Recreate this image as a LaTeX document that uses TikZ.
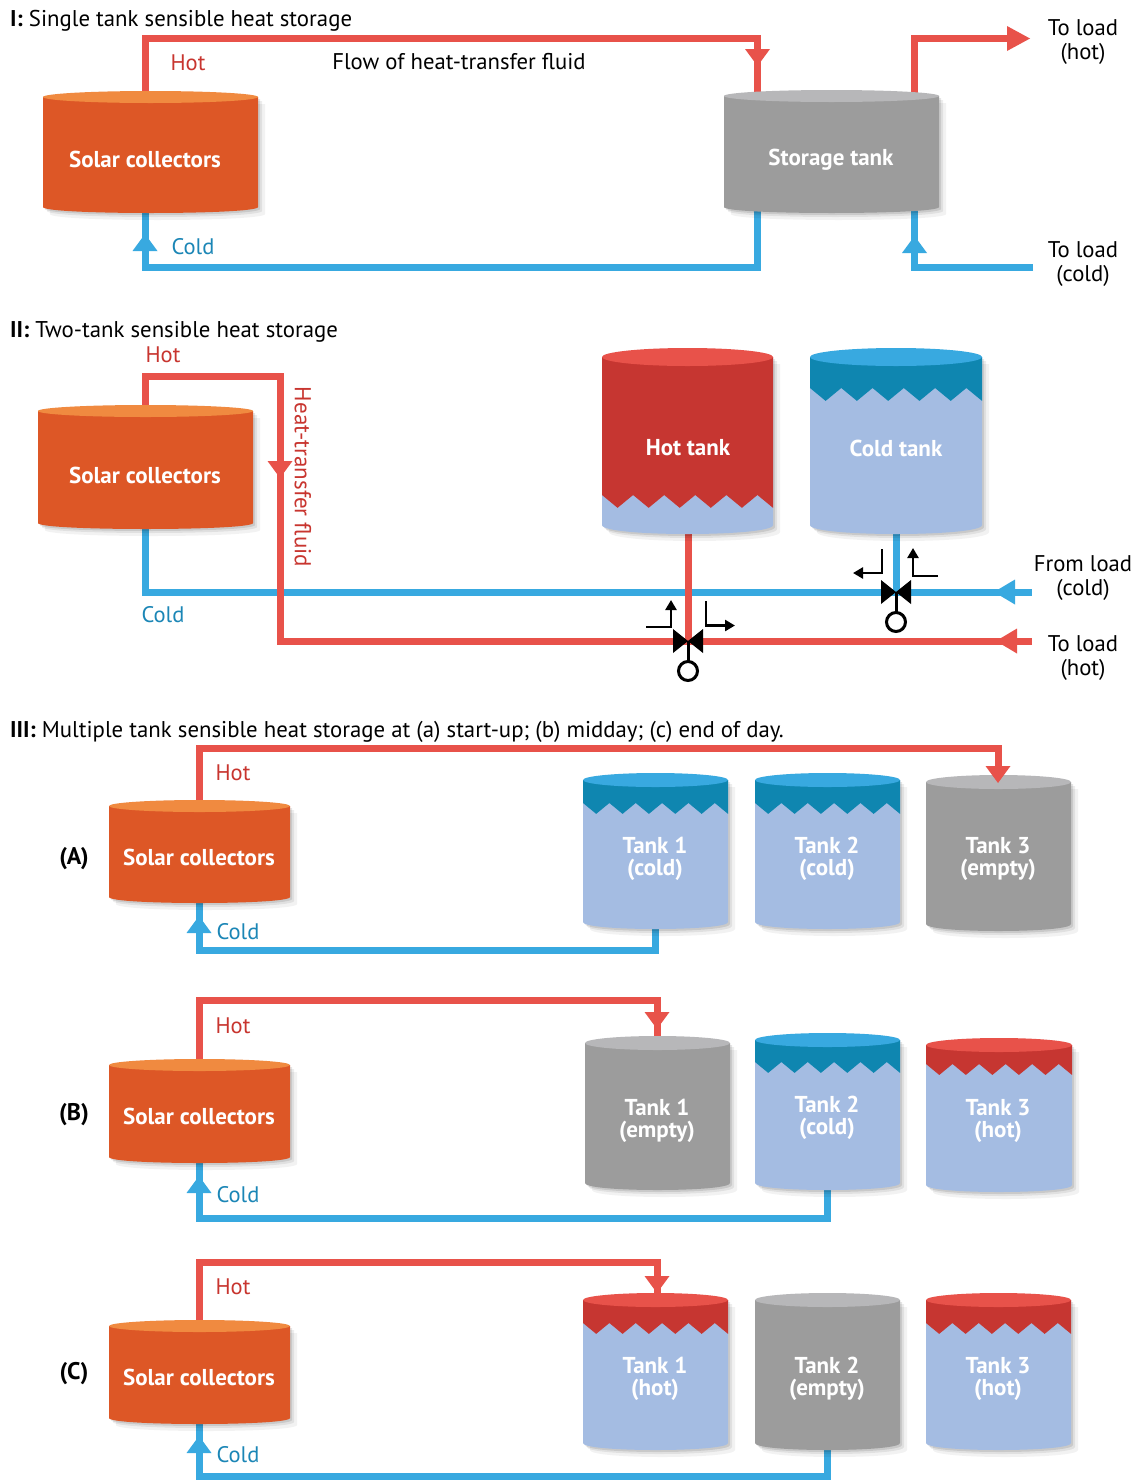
\documentclass[tikz,border=0pt]{standalone}
\usepackage{fontspec}
\setmainfont{PT Sans}
\usetikzlibrary{arrows.meta}

\definecolor{pipered}{HTML}{E8524A}
\definecolor{pipeblue}{HTML}{38A9E0}
\definecolor{hottext}{HTML}{C8352F}
\definecolor{coldtext}{HTML}{1B86B6}
\definecolor{orangebody}{HTML}{DD5726}
\definecolor{orangetop}{HTML}{F08A40}
\definecolor{graybody}{HTML}{9C9C9C}
\definecolor{graytop}{HTML}{B7B7B9}
\definecolor{redband}{HTML}{C63631}
\definecolor{redtop}{HTML}{E8524A}
\definecolor{blueband}{HTML}{0F86B0}
\definecolor{bluetop}{HTML}{38A9E0}
\definecolor{liquid}{HTML}{A4BCE2}

% soft drop shadow under a cylinder: L R yTop yBottom ry
\newcommand{\cylshadow}[5]{%
  \foreach \o/\op in {2/0.10,4/0.07,7/0.05}{%
    \fill[black,opacity=\op] ({#1+\o},{#3+\o}) -- ({#1+\o},{#4+\o})
      .. controls ({#1+\o},{#4+\o+1.333*#5}) and ({#2+\o},{#4+\o+1.333*#5}) .. ({#2+\o},{#4+\o})
      -- ({#2+\o},{#3+\o}) -- cycle;}%
}
% single-colour cylinder: L R yTop yBottom ry bodycolour topcolour
\newcommand{\plaincyl}[7]{%
  \cylshadow{#1}{#2}{#3}{#4}{#5}
  \fill[#6] (#1,#3) -- (#1,#4) .. controls (#1,{#4+1.333*#5}) and (#2,{#4+1.333*#5}) .. (#2,#4) -- (#2,#3) -- cycle;
  \fill[#7] ({(#1+#2)/2},#3) ellipse [x radius={(#2-#1)/2}, y radius=#5];
}
% cylinder holding liquid with a zigzag layer on top:
% L R yTop yBottom ry bandcolour topcolour zigzag-peak-y
\newcommand{\liquidcyl}[8]{%
  \cylshadow{#1}{#2}{#3}{#4}{#5}
  \begin{scope}
    \clip (#1,#3) -- (#1,#4) .. controls (#1,{#4+1.333*#5}) and (#2,{#4+1.333*#5}) .. (#2,#4) -- (#2,#3) -- cycle;
    \fill[liquid] ({#1-2},{#3-20}) rectangle ({#2+2},{#4+20});
    \fill[#6] ({#1-2},{#3-20}) -- ({#1-2},#8)
      foreach \k in {0,...,11}{ -- ({#1+\k*(#2-#1)/11},{#8+mod(\k,2)*0.075*(#2-#1)}) }
      -- ({#2+2},{#8+0.075*(#2-#1)}) -- ({#2+2},{#3-20}) -- cycle;
  \end{scope}
  \fill[#7] ({(#1+#2)/2},#3) ellipse [x radius={(#2-#1)/2}, y radius=#5];
}
% flow direction marks on the pipes (tip position given)
\newcommand{\arrdown}[3]{\fill[#1] (#2,#3) -- ({#2-12.5},{#3-17}) -- ({#2+12.5},{#3-17}) -- cycle;}
\newcommand{\arrup}[3]{\fill[#1] (#2,#3) -- ({#2-12.5},{#3+17}) -- ({#2+12.5},{#3+17}) -- cycle;}
\newcommand{\arrleft}[3]{\fill[#1] (#2,#3) -- ({#2+21},{#3-12.5}) -- ({#2+21},{#3+12.5}) -- cycle;}
\newcommand{\arrright}[3]{\fill[#1] (#2,#3) -- ({#2-23},{#3-12.5}) -- ({#2-23},{#3+12.5}) -- cycle;}
% three-way valve symbol centred at x y
\newcommand{\valvesym}[2]{%
  \fill[black] ({#1-15},{#2-12}) -- ({#1-15},{#2+12}) -- (#1,#2) -- cycle;
  \fill[black] ({#1+15},{#2-12}) -- ({#1+15},{#2+12}) -- (#1,#2) -- cycle;
  \draw[black,line width=3pt] (#1,#2) -- (#1,{#2+20.5});
  \draw[black,line width=3pt] (#1,{#2+30}) circle (9.5);
}

\begin{document}
\begin{tikzpicture}[x=1pt,y=-1pt,
  hotpipe/.style={draw=pipered,line width=7pt},
  coldpipe/.style={draw=pipeblue,line width=7pt},
  flowmark/.style={draw=black,line width=2.6pt,-{Triangle[width=11pt,length=10pt]}},
  title/.style={anchor=base west,font=\fontsize{22.8}{26}\selectfont,inner sep=0pt},
  plain/.style={font=\fontsize{22.7}{23.5}\selectfont,align=center,inner sep=0pt},
  hotlbl/.style={text=hottext,font=\fontsize{22.5}{25}\selectfont,inner sep=0pt},
  coldlbl/.style={text=coldtext,font=\fontsize{22.5}{25}\selectfont,inner sep=0pt},
  tanklbl/.style={text=white,font=\bfseries\fontsize{23}{22.5}\selectfont,align=center,inner sep=0pt},
  rowlbl/.style={font=\bfseries\fontsize{24}{26}\selectfont,inner sep=0pt}]

\useasboundingbox (0,0) rectangle (1138,1481);
\fill[white] (0,0) rectangle (1138,1481);

% ================= I: single tank =================
\node[title] (tI) at (10,26) {\textbf{I:} Single tank sensible heat storage};

\coordinate (cIhot) at (145,97);
\coordinate (cIcold) at (145,207);
\coordinate (sIin) at (757.5,93);
\coordinate (sIoutH) at (914.5,93);
\coordinate (sIoutC) at (757.5,207);
\coordinate (sIinC) at (914.5,207);
\coordinate (loadIhot) at (1008,38.5);
\coordinate (loadIcold) at (1033,267);

\draw[hotpipe] (cIhot) |- (sIin |- 0,38.5) -- (sIin);
\draw[hotpipe] (sIoutH) |- (loadIhot);
\draw[coldpipe] (sIoutC) |- (cIcold |- 0,267) -- (cIcold);
\draw[coldpipe] (loadIcold) -| (sIinC);

\plaincyl{43}{258}{97}{207}{6}{orangebody}{orangetop}
\plaincyl{724}{939}{96}{207}{6}{graybody}{graytop}
\node[tanklbl] (scI) at (145,159) {Solar collectors};
\node[tanklbl] (stI) at (831,160) {Storage tank};

\arrdown{pipered}{757.5}{66}
\arrright{pipered}{1030}{38.5}
\arrup{pipeblue}{145}{234}
\arrup{pipeblue}{914.5}{236}

\node[hotlbl] (hI) at (188,63) {Hot};
\node[coldlbl] (cI) at (193,247) {Cold};
\node[plain] (fI) at (459,62) {Flow of heat-transfer fluid};
\node[plain] (lIh) at (1083,42) {To load\\(hot)};
\node[plain] (lIc) at (1083,264) {To load\\(cold)};

% ================= II: two tank =================
\node[title] (tII) at (10,337) {\textbf{II:} Two-tank sensible heat storage};

\coordinate (cIIhot) at (145,410);
\coordinate (cIIcold) at (145,523);
\coordinate (htout) at (688,525);
\coordinate (ctout) at (896,525);
\coordinate (vh) at (688,641);
\coordinate (vc) at (896,592);
\coordinate (loadIIc) at (1032,592);
\coordinate (loadIIh) at (1032,641);

\draw[coldpipe] (cIIcold) |- (loadIIc);
\draw[coldpipe] (ctout) -- (vc);
\draw[hotpipe] (cIIhot) |- (280,376) -- (280,641) -- (loadIIh);
\draw[hotpipe] (htout) -- (vh);

\plaincyl{38}{253}{411}{523}{6}{orangebody}{orangetop}
\node[tanklbl] (scII) at (145,475) {Solar collectors};
\liquidcyl{602}{773}{357}{525}{9}{redband}{redtop}{495}
\liquidcyl{810}{982}{357}{525}{9}{blueband}{bluetop}{388}
\node[tanklbl] (ht) at (688,448) {Hot tank};
\node[tanklbl] (ct) at (896,448) {Cold tank};

\arrdown{pipered}{280}{478}
\arrleft{pipeblue}{994}{592}
\arrleft{pipered}{996}{641}

\valvesym{688}{641}
\valvesym{896}{592}
\draw[flowmark] (646,627) -- (671,627) -- (671,600);
\draw[flowmark] (706,601) -- (706,625.5) -- (735,625.5);
\draw[flowmark] (882,549) -- (882,573) -- (853,573);
\draw[flowmark] (938,576) -- (913,576) -- (913,548);

\node[hotlbl] (hII) at (163,355) {Hot};
\node[coldlbl] (cII) at (163,615) {Cold};
\node[hotlbl,rotate=-90,font=\fontsize{23}{25}\selectfont] (fII) at (303,477) {Heat-transfer fluid};
\node[plain] (lIIc) at (1083,578) {From load\\(cold)};
\node[plain] (lIIh) at (1083,658) {To load\\(hot)};

% ================= III: multiple tanks =================
\node[title] (tIII) at (10,737) {\textbf{III:} Multiple tank sensible heat storage at (a) start-up; (b) midday; (c) end of day.};

% ---- (A) start-up
\coordinate (aHot) at (199,806);
\coordinate (aCold) at (199,897);
\coordinate (aT3) at (998,782);
\coordinate (aT1) at (655.5,922);
\draw[hotpipe] (aHot) |- (aT3 |- 0,748.5) -- (aT3);
\draw[coldpipe] (aT1) |- (aCold |- 0,950) -- (aCold);
\plaincyl{109}{290}{806}{897}{6}{orangebody}{orangetop}
\liquidcyl{583}{728}{780}{922}{7}{blueband}{bluetop}{803}
\liquidcyl{755}{900}{780}{922}{7}{blueband}{bluetop}{803}
\plaincyl{926}{1071}{782}{924}{7}{graybody}{graytop}
\arrdown{pipered}{998}{783}
\arrup{pipeblue}{199}{916}
\node[rowlbl] (rA) at (74,859) {(A)};
\node[tanklbl] (scA) at (199,857) {Solar collectors};
\node[tanklbl] (a1) at (655,859) {Tank 1\\(cold)};
\node[tanklbl] (a2) at (827,859) {Tank 2\\(cold)};
\node[tanklbl] (a3) at (998,859) {Tank 3\\(empty)};
\node[hotlbl] (hA) at (233,773) {Hot};
\node[coldlbl] (cA) at (238,932) {Cold};

% ---- (B) midday
\coordinate (bHot) at (199,1065);
\coordinate (bCold) at (199,1157);
\coordinate (bT1) at (657,1043);
\coordinate (bT2) at (827,1183);
\draw[hotpipe] (bHot) |- (bT1 |- 0,1000) -- (bT1);
\draw[coldpipe] (bT2) |- (bCold |- 0,1218) -- (bCold);
\plaincyl{109}{290}{1065}{1157}{6}{orangebody}{orangetop}
\plaincyl{585}{730}{1043}{1183}{7}{graybody}{graytop}
\liquidcyl{755}{900}{1040}{1183}{7}{blueband}{bluetop}{1062}
\liquidcyl{926}{1072}{1045}{1185}{7}{redband}{redtop}{1064}
\arrdown{pipered}{657}{1029}
\arrup{pipeblue}{199}{1176}
\node[rowlbl] (rB) at (74,1115) {(B)};
\node[tanklbl] (scB) at (199,1116) {Solar collectors};
\node[tanklbl] (b1) at (657,1121) {Tank 1\\(empty)};
\node[tanklbl] (b2) at (827,1118) {Tank 2\\(cold)};
\node[tanklbl] (b3) at (998,1121) {Tank 3\\(hot)};
\node[hotlbl] (hB) at (233,1026) {Hot};
\node[coldlbl] (cB) at (238,1195) {Cold};

% ---- (C) end of day
\coordinate (cHot) at (199,1326);
\coordinate (cCold) at (199,1418);
\coordinate (cT1) at (657,1300);
\coordinate (cT2) at (827,1443);
\draw[hotpipe] (cHot) |- (cT1 |- 0,1262) -- (cT1);
\draw[coldpipe] (cT2) |- (cCold |- 0,1476.5) -- (cCold);
\plaincyl{109}{290}{1326}{1418}{6}{orangebody}{orangetop}
\liquidcyl{583}{728}{1300}{1443}{7}{redband}{redtop}{1323}
\plaincyl{755}{900}{1300}{1443}{7}{graybody}{graytop}
\liquidcyl{926}{1071}{1300}{1443}{7}{redband}{redtop}{1323}
\arrdown{pipered}{657}{1293}
\arrup{pipeblue}{199}{1436}
\node[rowlbl] (rC) at (74,1374) {(C)};
\node[tanklbl] (scC) at (199,1377) {Solar collectors};
\node[tanklbl] (c1) at (655,1379) {Tank 1\\(hot)};
\node[tanklbl] (c2) at (827,1379) {Tank 2\\(empty)};
\node[tanklbl] (c3) at (998,1379) {Tank 3\\(hot)};
\node[hotlbl] (hC) at (233,1287) {Hot};
\node[coldlbl] (cC) at (238,1455) {Cold};

\end{tikzpicture}
\end{document}
